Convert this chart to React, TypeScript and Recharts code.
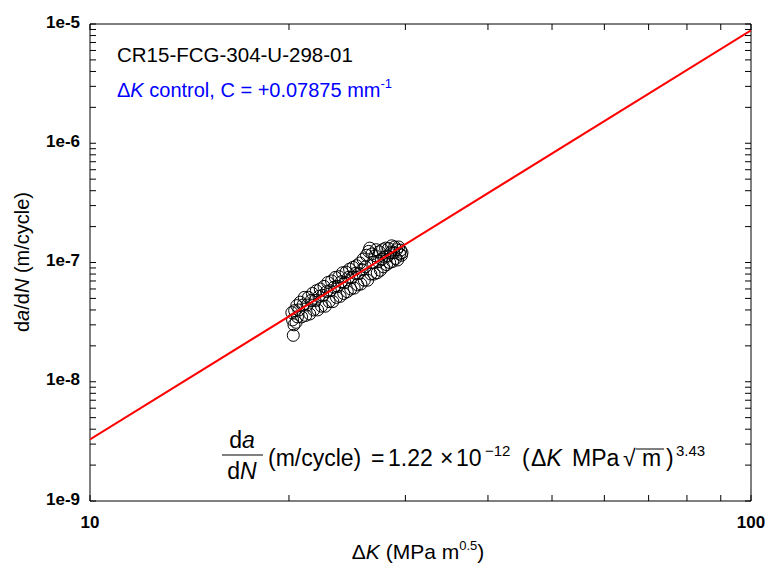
import React from 'react';
import { ScatterChart, Scatter, XAxis, YAxis } from 'recharts';

// Measured crack growth data: ΔK (MPa m^0.5) and da/dN (m/cycle)
const deltaK = [
  20.2, 20.25, 20.3, 20.35, 20.4, 20.5, 20.55, 20.6, 20.7, 20.8,
  20.9, 21.0, 21.1, 21.2, 21.3, 21.4, 21.5, 21.6, 21.7, 21.8,
  21.9, 22.0, 22.1, 22.2, 22.3, 22.4, 22.5, 22.6, 22.7, 22.8,
  22.9, 23.0, 23.1, 23.2, 23.3, 23.4, 23.5, 23.6, 23.7, 23.8,
  23.9, 24.0, 24.1, 24.2, 24.3, 24.4, 24.5, 24.6, 24.7, 24.8,
  24.9, 25.0, 25.1, 25.2, 25.3, 25.4, 25.5, 25.6, 25.7, 25.8,
  25.9, 26.0, 26.1, 26.2, 26.3, 26.4, 26.5, 26.6, 26.7, 26.8,
  26.9, 27.0, 27.1, 27.2, 27.3, 27.4, 27.5, 27.6, 27.7, 27.8,
  27.9, 28.0, 28.1, 28.2, 28.3, 28.4, 28.5, 28.6, 28.7, 28.8,
  28.9, 29.0, 29.1, 29.2, 29.3, 29.4, 29.5, 29.6, 29.65,
];
const dadN = [
  3.8e-8, 3.3e-8, 2.45e-8, 3.0e-8, 3.95e-8, 3.15e-8, 4.35e-8, 3.5e-8, 4.0e-8, 4.65e-8,
  3.5e-8, 4.4e-8, 5.1e-8, 3.6e-8, 4.4e-8, 5.1e-8, 3.7e-8, 4.8e-8, 5.5e-8, 4.0e-8,
  4.8e-8, 5.8e-8, 4.0e-8, 5.2e-8, 6.0e-8, 4.3e-8, 5.3e-8, 6.3e-8, 4.3e-8, 5.7e-8,
  6.8e-8, 4.7e-8, 5.8e-8, 7.0e-8, 4.7e-8, 6.2e-8, 7.5e-8, 5.1e-8, 6.3e-8, 7.6e-8,
  5.2e-8, 6.9e-8, 8.2e-8, 5.5e-8, 6.8e-8, 8.3e-8, 5.7e-8, 7.5e-8, 8.8e-8, 6.0e-8,
  7.5e-8, 9.1e-8, 6.1e-8, 8.1e-8, 9.4e-8, 6.5e-8, 8.1e-8, 9.9e-8, 6.6e-8, 8.7e-8,
  1.07e-7, 7.1e-8, 9.2e-8, 1.15e-7, 7.1e-8, 1.24e-7, 1.32e-7, 8.0e-8, 1.18e-7, 1.0e-7,
  8.0e-8, 1.14e-7, 1.28e-7, 8.2e-8, 1.02e-7, 1.23e-7, 8.6e-8, 1.06e-7, 1.28e-7, 9.2e-8,
  1.11e-7, 1.32e-7, 9.6e-8, 1.13e-7, 1.31e-7, 1.0e-7, 1.21e-7, 1.38e-7, 1.02e-7, 1.21e-7,
  1.35e-7, 1.08e-7, 1.28e-7, 1.05e-7, 1.35e-7, 1.18e-7, 1.27e-7, 1.15e-7, 1.21e-7,
];

// Paris-law fit endpoints: da/dN = 1.22e-12 * ΔK^3.43
const fitK = [10, 100];
const fitRate = [3.28e-9, 8.84e-6];

const xMajorTicks = [10, 100];
const xMajorLabels = ['10', '100'];
const xMinorTicks = [20, 30, 40, 50, 60, 70, 80, 90];
const yMajorTicks = [1e-9, 1e-8, 1e-7, 1e-6, 1e-5];
const yMajorLabels = ['1e-9', '1e-8', '1e-7', '1e-6', '1e-5'];
const yMinorMultipliers = [2, 3, 4, 5, 6, 7, 8, 9];

const points = deltaK.map((k, i) => ({ k, v: dadN[i] }));
const fitLine = fitK.map((k, i) => ({ k, v: fitRate[i] }));
const xTicks = [...xMajorTicks, ...xMinorTicks].sort((a, b) => a - b);
const yTicks: number[] = [];
yMajorTicks.forEach((d, i) => {
  yTicks.push(d);
  if (i < yMajorTicks.length - 1) yMinorMultipliers.forEach((m) => yTicks.push(parseFloat((m * d).toPrecision(3))));
});

const FONT = 'Arial, "Liberation Sans", sans-serif';
const TICK_LEN = 6;

const BottomTick = (props: any) => {
  const { x, y, payload } = props;
  const idx = xMajorTicks.indexOf(payload.value);
  return (
    <g>
      <line x1={x} x2={x} y1={y} y2={y - TICK_LEN} stroke="#000" strokeWidth={1} />
      {idx >= 0 && (
        <text x={x} y={y + 21} textAnchor="middle" dominantBaseline="central" fontFamily={FONT} fontSize={17} fontWeight="bold" fill="#000">
          {xMajorLabels[idx]}
        </text>
      )}
    </g>
  );
};
const TopTick = (props: any) => {
  const { x, y } = props;
  return <line x1={x} x2={x} y1={y} y2={y + TICK_LEN} stroke="#000" strokeWidth={1} />;
};
const LeftTick = (props: any) => {
  const { x, y, payload } = props;
  const idx = yMajorTicks.indexOf(payload.value);
  return (
    <g>
      <line x1={x} x2={x + TICK_LEN} y1={y} y2={y} stroke="#000" strokeWidth={1} />
      {idx >= 0 && (
        <text x={x - 10} y={y - 2} textAnchor="end" dominantBaseline="central" fontFamily={FONT} fontSize={17} fontWeight="bold" fill="#000">
          {yMajorLabels[idx]}
        </text>
      )}
    </g>
  );
};
const RightTick = (props: any) => {
  const { x, y } = props;
  return <line x1={x} x2={x - TICK_LEN} y1={y} y2={y} stroke="#000" strokeWidth={1} />;
};

const OpenCircle = (props: any) => (
  <circle cx={props.cx} cy={props.cy} r={6} fill="none" stroke="#000" strokeWidth={1} />
);
const NoShape = () => <g />;

export default function App() {
  return (
    <div style={{ position: 'absolute', left: 0, top: 0, width: 777, height: 574, background: '#fff' }}>
      <ScatterChart width={777} height={574} margin={{ top: 0, right: 0, bottom: 0, left: 0 }}>
        <XAxis
          xAxisId="bottom"
          dataKey="k"
          type="number"
          scale="log"
          domain={[10, 100]}
          allowDataOverflow
          ticks={xTicks}
          interval={0}
          height={73}
          tickSize={0}
          tickMargin={0}
          tick={<BottomTick />}
          axisLine={{ stroke: '#000', strokeWidth: 1 }}
          tickLine={false}
        />
        <XAxis
          xAxisId="top"
          orientation="top"
          dataKey="k"
          type="number"
          scale="log"
          domain={[10, 100]}
          allowDataOverflow
          ticks={xTicks}
          interval={0}
          height={24}
          tickSize={0}
          tickMargin={0}
          tick={<TopTick />}
          axisLine={{ stroke: '#000', strokeWidth: 1 }}
          tickLine={false}
        />
        <YAxis
          yAxisId="left"
          dataKey="v"
          type="number"
          scale="log"
          domain={[1e-9, 1e-5]}
          allowDataOverflow
          ticks={yTicks}
          interval={0}
          width={90}
          tickSize={0}
          tickMargin={0}
          tick={<LeftTick />}
          axisLine={{ stroke: '#000', strokeWidth: 1 }}
          tickLine={false}
        />
        <YAxis
          yAxisId="right"
          orientation="right"
          dataKey="v"
          type="number"
          scale="log"
          domain={[1e-9, 1e-5]}
          allowDataOverflow
          ticks={yTicks}
          interval={0}
          width={26}
          tickSize={0}
          tickMargin={0}
          tick={<RightTick />}
          axisLine={{ stroke: '#000', strokeWidth: 1 }}
          tickLine={false}
        />
        <Scatter
          xAxisId="bottom"
          yAxisId="left"
          data={points}
          shape={<OpenCircle />}
          isAnimationActive={false}
        />
        <Scatter
          xAxisId="bottom"
          yAxisId="left"
          data={fitLine}
          line={{ stroke: '#ff0000', strokeWidth: 2 }}
          shape={<NoShape />}
          isAnimationActive={false}
        />
      </ScatterChart>
      <svg width={777} height={574} style={{ position: 'absolute', left: 0, top: 0, pointerEvents: 'none' }} fontFamily={FONT}>
        <text x={117} y={62} fontSize={20.5} fill="#000">CR15-FCG-304-U-298-01</text>
        <text x={117} y={97} fontSize={20} fill="#0000ff">
          <tspan>Δ</tspan>
          <tspan fontStyle="italic">K</tspan>
          <tspan> control, C = +0.07875 mm</tspan>
          <tspan dy={-9} fontSize={13}>-1</tspan>
        </text>
        <text transform="translate(22,262) rotate(-90)" textAnchor="middle" dominantBaseline="central" fontSize={20} fill="#000">
          <tspan>d</tspan>
          <tspan fontStyle="italic">a</tspan>
          <tspan>/d</tspan>
          <tspan fontStyle="italic">N</tspan>
          <tspan> (m/cycle)</tspan>
        </text>
        <text x={418} y={559} textAnchor="middle" fontSize={21} fill="#000">
          <tspan>Δ</tspan>
          <tspan fontStyle="italic">K</tspan>
          <tspan> (MPa m</tspan>
          <tspan dy={-9} fontSize={13}>0.5</tspan>
          <tspan dy={9}>)</tspan>
        </text>
        <text x={242} y={448} textAnchor="middle" fontSize={23} fill="#000">
          <tspan>d</tspan>
          <tspan fontStyle="italic">a</tspan>
        </text>
        <line x1={222} x2={263} y1={455} y2={455} stroke="#000" strokeWidth={1} />
        <text x={242} y={479} textAnchor="middle" fontSize={23} fill="#000">
          <tspan>d</tspan>
          <tspan fontStyle="italic">N</tspan>
        </text>
        <text y={466} fontSize={23} fill="#000">
          <tspan x={268}>(m/cycle)</tspan>
          <tspan x={371}>=</tspan>
          <tspan x={388}>1.22</tspan>
          <tspan x={440}>×</tspan>
          <tspan x={456}>10</tspan>
          <tspan dy={-10} x={485} fontSize={15}>−12</tspan>
          <tspan dy={10} x={522}>(</tspan>
          <tspan x={531}>Δ</tspan>
          <tspan fontStyle="italic">K</tspan>
          <tspan x={572}>MPa</tspan>
          <tspan x={623}>√</tspan>
          <tspan x={642}>m</tspan>
          <tspan x={666}>)</tspan>
          <tspan dy={-10} x={676} fontSize={15}>3.43</tspan>
        </text>
        <line x1={636} x2={664} y1={449} y2={449} stroke="#000" strokeWidth={1} />
      </svg>
    </div>
  );
}
